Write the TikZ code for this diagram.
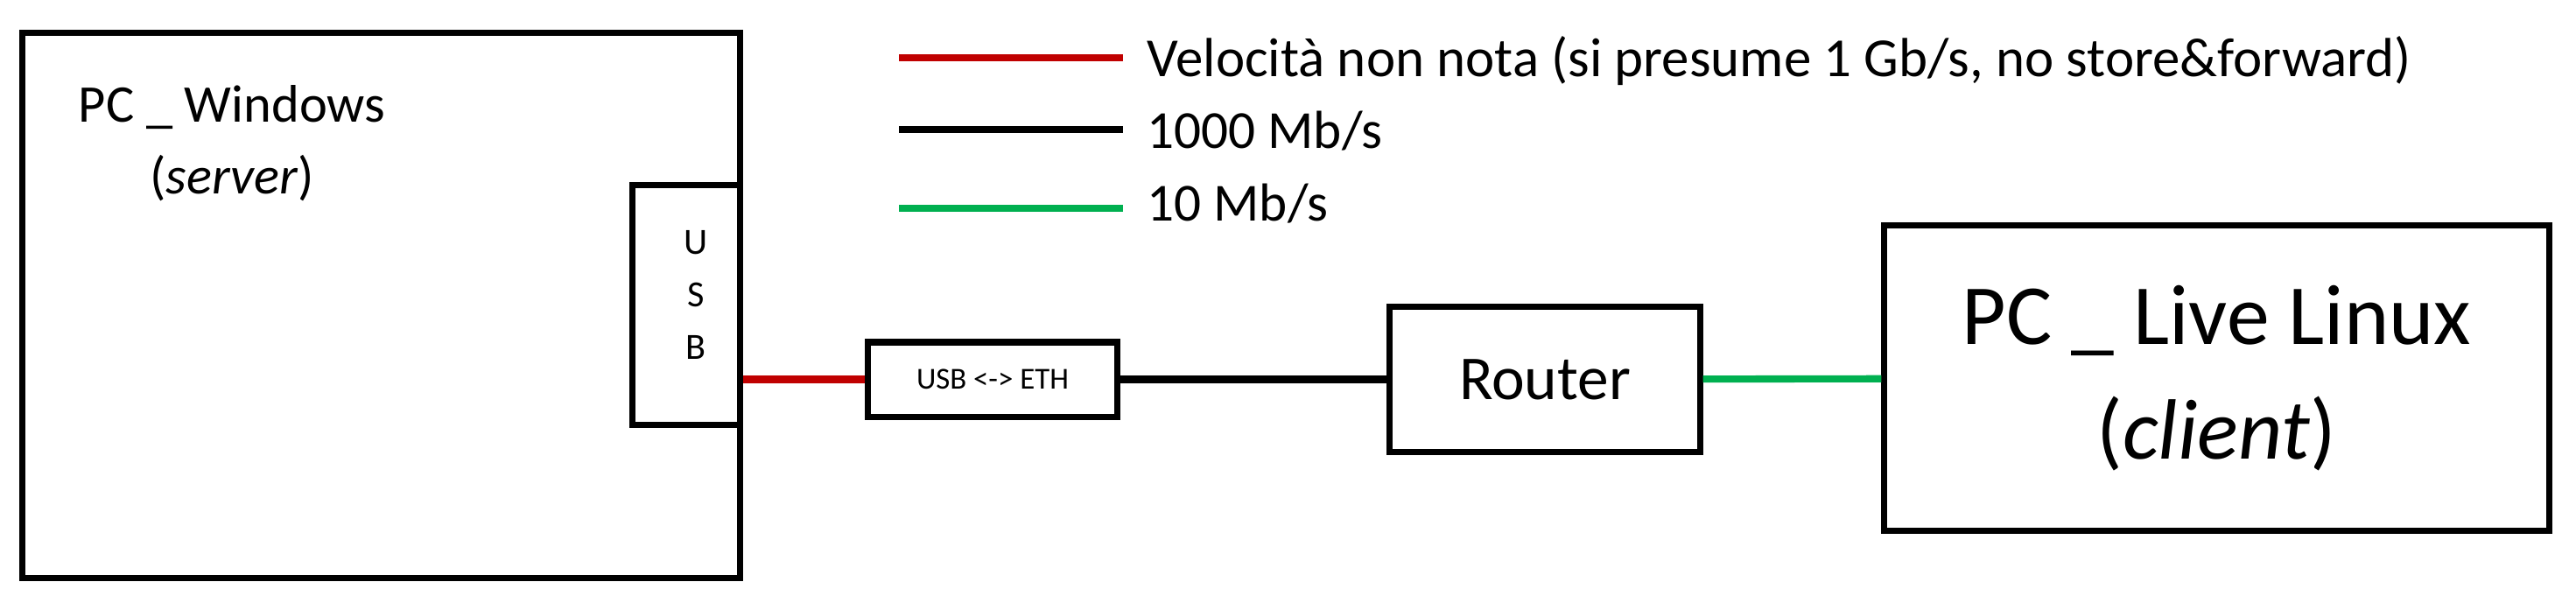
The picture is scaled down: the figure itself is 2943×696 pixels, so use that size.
\documentclass[tikz,border=0pt]{standalone}
\usepackage{fontspec}
\setmainfont{Carlito}
\definecolor{lnred}{HTML}{C00000}
\definecolor{lngreen}{HTML}{00B050}
\tikzstyle{box} = [draw, line width=2pt, rectangle, inner sep=0pt]
\tikzstyle{wire} = [line width=2.3pt]
\tikzstyle{legtext} = [anchor=base west, inner sep=0pt, font=\fontsize{17.4}{20}\selectfont]

\begin{document}
\begin{tikzpicture}[x=0.01cm, y=-0.01cm]
  \useasboundingbox (0,0) rectangle (2943,696);
  % boxes
  \node (win) at (435.5,349) [box, minimum width=8.19cm, minimum height=6.22cm] {};
  \node (usb) at (784,348.5) [box, fill=white, minimum width=1.22cm, minimum height=2.73cm] {};
  \node (conv) at (1134,433.5) [box, minimum width=2.84cm, minimum height=0.85cm, font=\fontsize{9.9}{12}\selectfont] {USB <-> ETH};
  \node (router) at (1765,433.5) [box, minimum width=3.54cm, minimum height=1.65cm, font=\fontsize{20.3}{24}\selectfont] {Router};
  \node (linux) at (2532.5,432) [box, minimum width=7.59cm, minimum height=3.48cm, align=center, font=\fontsize{27.8}{37.3}\selectfont] {PC \_ Live Linux\\(\textit{client})};
  % labels
  \node (winlabel) at (265,164) [align=center, font=\fontsize{17.2}{23.3}\selectfont] {PC \_ Windows\\(\textit{server})};
  \node (usblabel) at (795,337) [align=center, font=\fontsize{12}{17}\selectfont] {U\\S\\B};
  % links
  \draw [wire, lnred] (conv.west -| win.east) -- (conv.west);
  \draw [wire] (conv) -- (router);
  \draw [wire, lngreen] (router) -- (linux);
  % legend
  \draw [wire, lnred] (1027,66) -- (1283,66);
  \draw [wire] (1027,148) -- (1283,148);
  \draw [wire, lngreen] (1027,238) -- (1283,238);
  \node (leg1) at (1310,87) [legtext, font=\fontsize{17.9}{20}\selectfont] {Velocità non nota (si presume 1 Gb/s, no store\&forward)};
  \node (leg2) at (1310,169) [legtext] {1000 Mb/s};
  \node (leg3) at (1310,252) [legtext] {10 Mb/s};
\end{tikzpicture}
\end{document}
